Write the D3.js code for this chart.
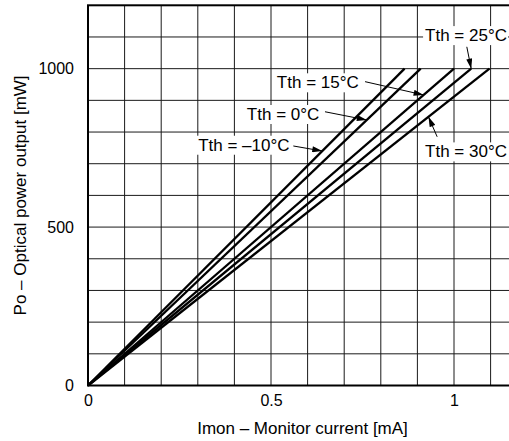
<!DOCTYPE html>
<html>
<head>
<meta charset="utf-8">
<script src="https://cdn.jsdelivr.net/npm/d3@7"></script>
<style>
  body { margin: 0; background: #fff; }
  svg { display: block; font-family: "Liberation Sans", Arial, sans-serif; }
</style>
</head>
<body>
<div id="container"></div>
<script>
// Series: each line runs from the origin to the current where Po reaches 1000 mW
const seriesNames = ["Tth = \u201310\u00B0C", "Tth = 0\u00B0C", "Tth = 15\u00B0C", "Tth = 25\u00B0C", "Tth = 30\u00B0C"];
const imonStart = [0, 0, 0, 0, 0];
const poStart = [0, 0, 0, 0, 0];
const imonEnd = [0.865, 0.909, 1.0, 1.047, 1.097];
const poEnd = [1000, 1000, 1000, 1000, 1000];

const xTicks = [0, 0.5, 1];
const xTickLabels = ["0", "0.5", "1"];
const yTicks = [0, 500, 1000];
const yTickLabels = ["0", "500", "1000"];

const xTitle = "Imon \u2013 Monitor current [mA]";
const yTitle = "Po \u2013 Optical power output [mW]";

// annotation placement in data units (text start, baseline, arrow tail, arrow tip on line)
const noteTextX = [0.301, 0.434, 0.516, 0.921, 0.921];
const noteTextY = [741, 838, 938, 1087, 720];
const noteTailX = [0.561, 0.6475, 0.757, 1.035, 0.954];
const noteTailY = [756, 864, 959, 1069, 785];
const noteTipPo = [740, 838, 917, 1000, 848];

const chartWidth = 509, chartHeight = 441;
const plotLeft = 88, plotTop = 5.3, plotBottom = 385.5;
const pxPerMa = 366;

const svg = d3.select('#container')
  .append('svg')
  .attr('width', chartWidth)
  .attr('height', chartHeight);

const x = d3.scaleLinear().domain([0, 1.2]).range([plotLeft, plotLeft + 1.2 * pxPerMa]);
const y = d3.scaleLinear().domain([0, 1200]).range([plotBottom, plotTop]);

// grid
const grid = svg.append('g').attr('stroke', '#1a1a1a').attr('stroke-width', 1);
grid.selectAll('line.v')
  .data(d3.range(1, 12).map(i => i / 10))
  .enter().append('line')
  .attr('x1', d => x(d)).attr('x2', d => x(d))
  .attr('y1', y(0)).attr('y2', y(1200));
grid.selectAll('line.h')
  .data(d3.range(1, 12).map(i => i * 100))
  .enter().append('line')
  .attr('x1', x(0)).attr('x2', x(1.2))
  .attr('y1', d => y(d)).attr('y2', d => y(d));

// frame
svg.append('rect')
  .attr('x', x(0)).attr('y', y(1200))
  .attr('width', x(1.2) - x(0)).attr('height', y(0) - y(1200))
  .attr('fill', 'none').attr('stroke', '#000').attr('stroke-width', 2);

// axes (labels only)
const xAxis = d3.axisBottom(x)
  .tickValues(xTicks)
  .tickSize(0)
  .tickPadding(9)
  .tickFormat((d, i) => xTickLabels[i]);
svg.append('g')
  .attr('transform', 'translate(0,' + y(0) + ')')
  .call(xAxis)
  .call(g => g.select('.domain').remove())
  .selectAll('text')
  .attr('font-size', 16).attr('font-family', '"Liberation Sans", Arial, sans-serif').attr('fill', '#000');

const yAxis = d3.axisLeft(y)
  .tickValues(yTicks)
  .tickSize(0)
  .tickPadding(14)
  .tickFormat((d, i) => yTickLabels[i]);
svg.append('g')
  .attr('transform', 'translate(' + x(0) + ',0)')
  .call(yAxis)
  .call(g => g.select('.domain').remove())
  .selectAll('text')
  .attr('font-size', 16).attr('font-family', '"Liberation Sans", Arial, sans-serif').attr('fill', '#000');

// axis titles
svg.append('text')
  .attr('x', 302.5).attr('y', 434)
  .attr('text-anchor', 'middle')
  .attr('font-size', 17)
  .text(xTitle);
svg.append('text')
  .attr('transform', 'translate(26,' + ((y(0) + y(1200)) / 2) + ') rotate(-90)')
  .attr('text-anchor', 'middle')
  .attr('font-size', 17)
  .text(yTitle);

// data lines
const series = seriesNames.map((name, i) => ({
  name: name,
  points: [[imonStart[i], poStart[i]], [imonEnd[i], poEnd[i]]]
}));
const line = d3.line().x(d => x(d[0])).y(d => y(d[1]));
svg.append('g')
  .selectAll('path')
  .data(series)
  .enter().append('path')
  .attr('d', d => line(d.points))
  .attr('fill', 'none')
  .attr('stroke', '#000')
  .attr('stroke-width', 2.3)
  .attr('stroke-linecap', 'butt');

// arrowhead
svg.append('defs').append('marker')
  .attr('id', 'arrow')
  .attr('viewBox', '0 0 10 6')
  .attr('refX', 10).attr('refY', 3)
  .attr('markerWidth', 11).attr('markerHeight', 6)
  .attr('markerUnits', 'userSpaceOnUse')
  .attr('orient', 'auto')
  .append('path')
  .attr('d', 'M0,0 L10,3 L0,6 Z')
  .attr('fill', '#000');

// annotations
const notes = svg.append('g');
seriesNames.forEach((name, i) => {
  const tipX = imonEnd[i] * noteTipPo[i] / poEnd[i];
  const g = notes.append('g');
  const bg = g.append('rect').attr('fill', '#fff');
  const t = g.append('text')
    .attr('x', x(noteTextX[i]))
    .attr('y', y(noteTextY[i]))
    .attr('font-size', 17)
    .text(name);
  const bb = t.node().getBBox();
  bg.attr('x', bb.x - 2).attr('y', bb.y)
    .attr('width', bb.width + 3).attr('height', bb.height);
  notes.append('line')
    .attr('x1', x(noteTailX[i])).attr('y1', y(noteTailY[i]))
    .attr('x2', x(tipX)).attr('y2', y(noteTipPo[i]))
    .attr('stroke', '#000').attr('stroke-width', 1)
    .attr('marker-end', 'url(#arrow)');
});
</script>
</body>
</html>
